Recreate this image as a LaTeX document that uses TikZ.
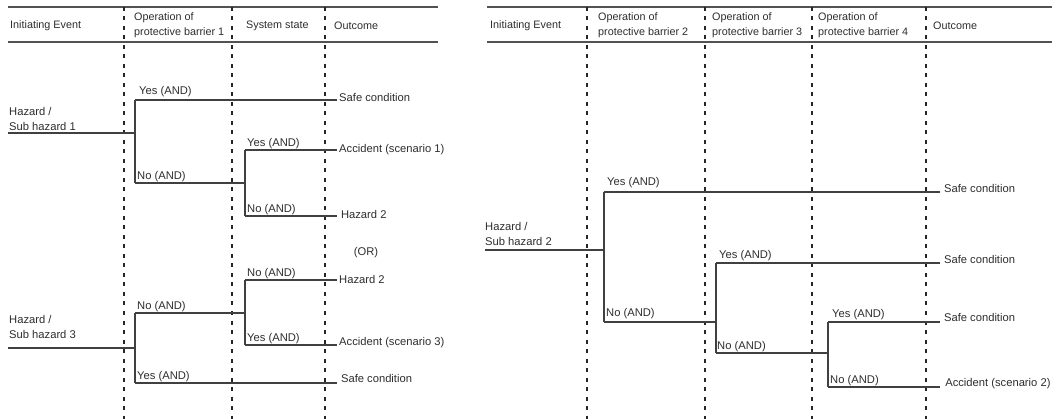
\documentclass[tikz,border=0pt]{standalone}
\usepackage{fontspec}
\setmainfont{Liberation Sans}
\begin{document}
\begin{tikzpicture}[x=1pt,y=-1pt,
  every node/.style={font=\fontsize{11.2}{15}\selectfont, text=black!82, inner sep=0pt},
  hdr/.style={draw=black!68, line width=1.4pt},
  divider/.style={draw=black!85, line width=1.5pt, dash pattern=on 4pt off 5.5pt},
  branch/.style={draw=black!75, line width=1.2pt},
  head/.style={anchor=west, align=left, font=\fontsize{10.8}{15}\selectfont},
  lbl/.style={anchor=south west},
  outc/.style={anchor=west, inner xsep=2pt}]
\useasboundingbox[fill=white] (0,0) rectangle (1056,419);

% ---------- column headers ----------
\draw[hdr] (8,7) -- (438,7);
\draw[hdr] (8,42) -- (438,42);
\draw[hdr] (487,7) -- (1052,7);
\draw[hdr] (487,42) -- (1052,42);
\foreach \x in {124,232,325,587,705,812,926}
  \draw[divider] (\x,7) -- (\x,419);

\node[head] (hA1) at (10,25.5) {Initiating Event};
\node[head] (hA2) at (134,25) {Operation of\\protective barrier 1};
\node[head] (hA3) at (246,25.5) {System state};
\node[head] (hA4) at (334,25.5) {Outcome};

\node[head] (hB1) at (490,26) {Initiating Event};
\node[head] (hB2) at (598,25) {Operation of\\protective barrier 2};
\node[head] (hB3) at (712,25) {Operation of\\protective barrier 3};
\node[head] (hB4) at (818,25) {Operation of\\protective barrier 4};
\node[head] (hB5) at (933,26) {Outcome};

% ---------- tree for sub hazard 1 ----------
\node[lbl, align=left] (hz1) at (9,131) {Hazard /\\Sub hazard 1};
\coordinate (s1) at (8,133);
\coordinate (j1) at (135,133);
\coordinate (j1y) at (135,100);
\coordinate (j1n) at (135,183);
\coordinate (k1) at (245,183);
\coordinate (k1y) at (245,150);
\coordinate (k1n) at (245,216);
\node[outc] (o1) at (337,98) {Safe condition};
\node[outc] (o2) at (337,150) {Accident (scenario 1)};
\node[outc] (o3) at (337,214) {\,Hazard 2};
\draw[branch] (s1) -- (j1);
\draw[branch] (j1y) -- (j1n);
\draw[branch] (j1y) -- (j1y -| o1.west);
\draw[branch] (j1n) -- (k1);
\draw[branch] (k1y) -- (k1n);
\draw[branch] (k1y) -- (k1y -| o2.west);
\draw[branch] (k1n) -- (k1n -| o3.west);
\node[lbl] (l1) at (139,97) {Yes (AND)};
\node[lbl] (l2) at (137,182) {No (AND)};
\node[lbl] (l3) at (247,149) {Yes (AND)};
\node[lbl] (l4) at (247,215) {No (AND)};

\node (or) at (366,253) {(OR)};

% ---------- tree for sub hazard 3 ----------
\node[lbl, align=left] (hz3) at (9,339) {Hazard /\\Sub hazard 3};
\coordinate (s3) at (8,348);
\coordinate (j3) at (135,348);
\coordinate (j3n) at (135,313);
\coordinate (j3y) at (135,383);
\coordinate (k3) at (245,313);
\coordinate (k3n) at (245,280);
\coordinate (k3y) at (245,345);
\node[outc] (o4) at (337,279) {Hazard 2};
\node[outc] (o5) at (337,343) {Accident (scenario 3)};
\node[outc] (o6) at (337,378) {\,Safe condition};
\draw[branch] (s3) -- (j3);
\draw[branch] (j3n) -- (j3y);
\draw[branch] (j3n) -- (k3);
\draw[branch] (k3n) -- (k3y);
\draw[branch] (k3n) -- (k3n -| o4.west);
\draw[branch] (k3y) -- (k3y -| o5.west);
\draw[branch] (j3y) -- (j3y -| o6.west);
\node[lbl] (l5) at (137,312) {No (AND)};
\node[lbl] (l6) at (247,279) {No (AND)};
\node[lbl] (l7) at (247,344) {Yes (AND)};
\node[lbl] (l8) at (137,382) {Yes (AND)};

% ---------- tree for sub hazard 2 ----------
\node[lbl, align=left] (hz2) at (485,246) {Hazard /\\Sub hazard 2};
\coordinate (s2) at (485,250);
\coordinate (p2) at (604,250);
\coordinate (p2y) at (604,192);
\coordinate (p2n) at (604,322);
\coordinate (p3) at (716,322);
\coordinate (p3y) at (716,263);
\coordinate (p3n) at (716,353);
\coordinate (p4) at (828,353);
\coordinate (p4y) at (828,322);
\coordinate (p4n) at (828,387);
\node[outc] (r1) at (940,188) {\,Safe condition};
\node[outc] (r2) at (940,259) {\,Safe condition};
\node[outc] (r3) at (940,317) {\,Safe condition};
\node[outc] (r4) at (940,384) {\;Accident (scenario 2)};
\draw[branch] (s2) -- (p2);
\draw[branch] (p2y) -- (p2n);
\draw[branch] (p2y) -- (p2y -| r1.west);
\draw[branch] (p2n) -- (p3);
\draw[branch] (p3y) -- (p3n);
\draw[branch] (p3y) -- (p3y -| r2.west);
\draw[branch] (p3n) -- (p4);
\draw[branch] (p4y) -- (p4n);
\draw[branch] (p4y) -- (p4y -| r3.west);
\draw[branch] (p4n) -- (p4n -| r4.west);
\node[lbl] (m1) at (607,188) {Yes (AND)};
\node[lbl] (m2) at (606,319) {No (AND)};
\node[lbl] (m3) at (719,261) {Yes (AND)};
\node[lbl] (m4) at (717,352) {No (AND)};
\node[lbl] (m5) at (832,320) {Yes (AND)};
\node[lbl] (m6) at (830,386) {No (AND)};
\end{tikzpicture}
\end{document}
